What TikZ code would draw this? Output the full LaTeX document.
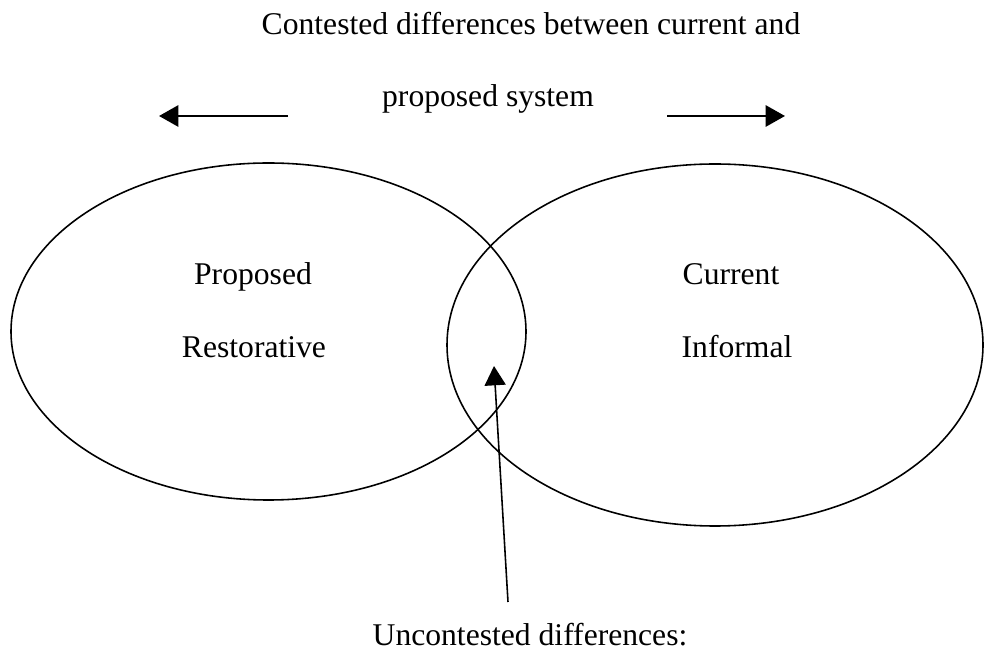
\documentclass[tikz,border=0pt]{standalone}
\usepackage{fontspec}
\setmainfont{Liberation Serif}
\usetikzlibrary{
    positioning,
    arrows.meta
}

\begin{document}
\begin{tikzpicture}[x=0.02cm, y=-0.02cm, >={Triangle[length=11pt, width=12pt]},
    label/.style={font=\fontsize{18}{21}\selectfont, inner sep=0pt, anchor=base}]
                % 画像の範囲
                \useasboundingbox (0, 0) rectangle (984, 651);
                
                % 見出し
                \node[label] (head1) at (531, 35) {Contested differences between current and};
                \node[label] (head2) at (488, 107) {proposed system};
                
                % 矢印の端点
                \coordinate (L1) at (288, 116);
                \coordinate (L2) at (159, 116);
                \coordinate (R1) at (667, 116);
                \coordinate (R2) at (785, 116);
                
                % 二つの楕円
                \draw[line width=0.9pt] (268.5, 331.5) ellipse (257.5 and 168.5);
                \draw[line width=0.9pt] (715, 345) ellipse (268 and 181);
                
                % 楕円内の文字
                \node[label] (prop) at (253, 285) {Proposed};
                \node[label] (rest) at (254, 358) {Restorative};
                \node[label] (curr) at (731, 285) {Current};
                \node[label] (info) at (737, 358) {Informal};
                
                % 下の説明と矢印
                \node[label] (uncon) at (530, 645) {Uncontested differences:};
                \coordinate (S) at (508, 602);
                \coordinate (T) at (494, 366);
                
                \draw[->, line width=1.5pt] (L1) -- (L2);
                \draw[->, line width=1.5pt] (R1) -- (R2);
                \draw[->, line width=0.9pt] (S) -- (T);
            \end{tikzpicture}
\end{document}
